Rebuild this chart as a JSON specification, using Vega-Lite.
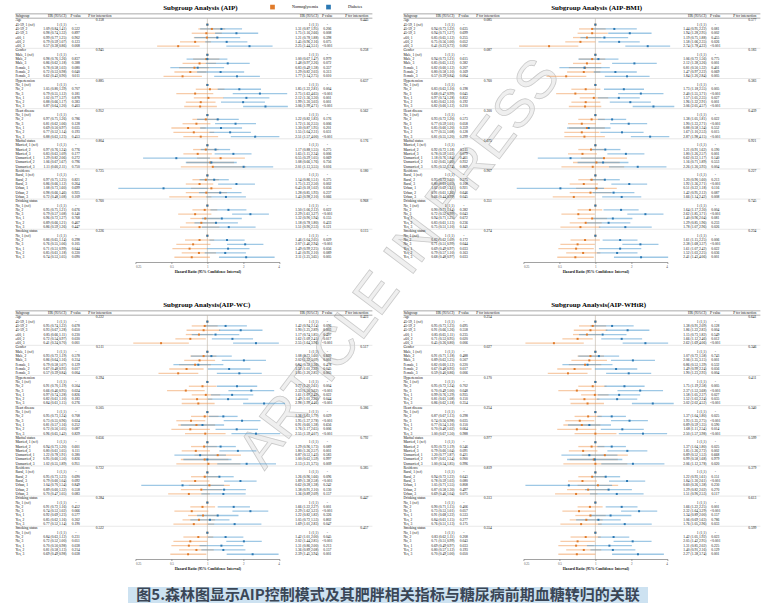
{
"$schema":"https://vega.github.io/schema/vega-lite/v6.json",
"padding":{"left":15,"top":4,"right":5,"bottom":5},
"background":"white",
"config":{"view":{"stroke":null}},
"datasets":{"t":[
{"p":1,"r":-1,"g":"c","s":"Subgroup","lt":"HR (95%CI)","lp":"P value","li":"P for interaction","rt":"HR (95%CI)","rp":"P value","ri":"P for interaction"},
{"p":1,"r":0,"g":"h","s":"Age","li":"0.158","ri":"0.445"},
{"p":1,"r":1,"g":"f","s":"45-59, 1 (ref)","lt":"1 (1,1)","lp":"-","rt":"1 (1,1)","rp":"-","n":1,"d":1},
{"p":1,"r":2,"g":"v","s":"45-59, 2","lt":"1.09 (0.84,1.41)","lp":"0.522","rt":"1.31 (0.87,1.95)","rp":"0.206","n":1.09,"nl":0.84,"nh":1.41,"d":1.31,"dl":0.87,"dh":1.95},
{"p":1,"r":3,"g":"v","s":"45-59, 3","lt":"0.98 (0.74,1.32)","lp":"0.897","rt":"1.75 (1.16,2.66)","rp":"0.008","n":0.98,"nl":0.74,"nh":1.32,"d":1.75,"dl":1.16,"dh":2.66},
{"p":1,"r":4,"g":"v","s":"≥60, 1","lt":"0.99 (0.77,1.25)","lp":"0.902","rt":"1.21 (0.78,1.88)","rp":"0.398","n":0.99,"nl":0.77,"nh":1.25,"d":1.21,"dl":0.78,"dh":1.88},
{"p":1,"r":5,"g":"v","s":"≥60, 2","lt":"0.79 (0.59,1.07)","lp":"0.123","rt":"1.45 (0.96,2.16)","rp":"0.075","n":0.79,"nl":0.59,"nh":1.07,"d":1.45,"dl":0.96,"dh":2.16},
{"p":1,"r":6,"g":"v","s":"≥60, 3","lt":"0.57 (0.38,0.86)","lp":"0.008","rt":"2.25 (1.44,3.51)","rp":"<0.001","n":0.57,"nl":0.38,"nh":0.86,"d":2.25,"dl":1.44,"dh":3.51},
{"p":1,"r":7,"g":"h","s":"Gender","li":"0.945","ri":"0.258"},
{"p":1,"r":8,"g":"f","s":"Male, 1 (ref)","lt":"1 (1,1)","lp":"-","rt":"1 (1,1)","rp":"-","n":1,"d":1},
{"p":1,"r":9,"g":"v","s":"Male, 2","lt":"0.98 (0.76,1.26)","lp":"0.837","rt":"1.00 (0.67,1.47)","rp":"0.979","n":0.98,"nl":0.76,"nh":1.26,"d":1.0,"dl":0.67,"dh":1.47},
{"p":1,"r":10,"g":"v","s":"Male, 3","lt":"0.86 (0.62,1.18)","lp":"0.388","rt":"1.48 (0.97,2.26)","rp":"0.072","n":0.86,"nl":0.62,"nh":1.18,"d":1.48,"dl":0.97,"dh":2.26},
{"p":1,"r":11,"g":"v","s":"Female, 1","lt":"0.78 (0.58,1.03)","lp":"0.080","rt":"0.83 (0.49,1.38)","rp":"0.357","n":0.78,"nl":0.58,"nh":1.03,"d":0.83,"dl":0.49,"dh":1.38},
{"p":1,"r":12,"g":"v","s":"Female, 2","lt":"0.72 (0.53,0.98)","lp":"0.040","rt":"1.29 (0.82,2.03)","rp":"0.313","n":0.72,"nl":0.53,"nh":0.98,"d":1.29,"dl":0.82,"dh":2.03},
{"p":1,"r":13,"g":"v","s":"Female, 3","lt":"0.62 (0.43,0.90)","lp":"0.011","rt":"1.77 (1.14,2.75)","rp":"0.010","n":0.62,"nl":0.43,"nh":0.9,"d":1.77,"dl":1.14,"dh":2.75},
{"p":1,"r":14,"g":"h","s":"Hypertension","li":"0.885","ri":"0.637"},
{"p":1,"r":15,"g":"f","s":"No, 1 (ref)","lt":"1 (1,1)","lp":"-","rt":"1 (1,1)","rp":"-","n":1,"d":1},
{"p":1,"r":16,"g":"v","s":"No, 2","lt":"1.05 (0.80,1.39)","lp":"0.707","rt":"1.85 (1.22,2.81)","rp":"0.004","n":1.05,"nl":0.8,"nh":1.39,"d":1.85,"dl":1.22,"dh":2.81},
{"p":1,"r":17,"g":"v","s":"No, 3","lt":"0.79 (0.55,1.12)","lp":"0.181","rt":"2.75 (1.63,4.65)","rp":"<0.001","n":0.79,"nl":0.55,"nh":1.12,"d":2.75,"dl":1.63,"dh":4.65},
{"p":1,"r":18,"g":"v","s":"Yes, 1","lt":"1.02 (0.77,1.37)","lp":"0.878","rt":"2.12 (1.36,3.30)","rp":"0.001","n":1.02,"nl":0.77,"nh":1.37,"d":2.12,"dl":1.36,"dh":3.3},
{"p":1,"r":19,"g":"v","s":"Yes, 2","lt":"0.88 (0.66,1.17)","lp":"0.383","rt":"1.99 (1.30,3.03)","rp":"0.001","n":0.88,"nl":0.66,"nh":1.17,"d":1.99,"dl":1.3,"dh":3.03},
{"p":1,"r":20,"g":"v","s":"Yes, 3","lt":"0.87 (0.64,1.20)","lp":"0.403","rt":"3.06 (1.99,4.71)","rp":"<0.001","n":0.87,"nl":0.64,"nh":1.2,"d":3.06,"dl":1.99,"dh":4.71},
{"p":1,"r":21,"g":"h","s":"Heart disease","li":"0.952","ri":"0.562"},
{"p":1,"r":22,"g":"f","s":"No, 1 (ref)","lt":"1 (1,1)","lp":"-","rt":"1 (1,1)","rp":"-","n":1,"d":1},
{"p":1,"r":23,"g":"v","s":"No, 2","lt":"0.97 (0.75,1.26)","lp":"0.786","rt":"1.22 (0.82,1.83)","rp":"0.176","n":0.97,"nl":0.75,"nh":1.26,"d":1.22,"dl":0.82,"dh":1.83},
{"p":1,"r":24,"g":"v","s":"No, 3","lt":"0.81 (0.62,1.06)","lp":"0.128","rt":"1.72 (1.16,2.55)","rp":"0.006","n":0.81,"nl":0.62,"nh":1.06,"d":1.72,"dl":1.16,"dh":2.55},
{"p":1,"r":25,"g":"v","s":"Yes, 1","lt":"0.69 (0.50,0.97)","lp":"0.035","rt":"1.30 (0.87,1.95)","rp":"0.201","n":0.69,"nl":0.5,"nh":0.97,"d":1.3,"dl":0.87,"dh":1.95},
{"p":1,"r":26,"g":"v","s":"Yes, 2","lt":"0.77 (0.52,1.14)","lp":"0.193","rt":"1.55 (1.04,2.31)","rp":"0.031","n":0.77,"nl":0.52,"nh":1.14,"d":1.55,"dl":1.04,"dh":2.31},
{"p":1,"r":27,"g":"v","s":"Yes, 3","lt":"0.88 (0.63,1.23)","lp":"0.453","rt":"2.51 (1.57,4.00)","rp":"<0.001","n":0.88,"nl":0.63,"nh":1.23,"d":2.51,"dl":1.57,"dh":4.0},
{"p":1,"r":28,"g":"h","s":"Marital status","li":"0.804","ri":"0.176"},
{"p":1,"r":29,"g":"f","s":"Married, 1 (ref)","lt":"1 (1,1)","lp":"-","rt":"1 (1,1)","rp":"-","n":1,"d":1},
{"p":1,"r":30,"g":"v","s":"Married, 2","lt":"0.97 (0.76,1.24)","lp":"0.776","rt":"1.17 (0.88,1.55)","rp":"0.275","n":0.97,"nl":0.76,"nh":1.24,"d":1.17,"dl":0.88,"dh":1.55},
{"p":1,"r":31,"g":"v","s":"Married, 3","lt":"0.83 (0.63,1.09)","lp":"0.177","rt":"1.65 (1.15,2.34)","rp":"0.006","n":0.83,"nl":0.63,"nh":1.09,"d":1.65,"dl":1.15,"dh":2.34},
{"p":1,"r":32,"g":"v","s":"Unmarried, 1","lt":"1.29 (0.82,2.06)","lp":"0.272","rt":"0.55 (0.29,1.05)","rp":"0.069","n":1.29,"nl":0.82,"nh":2.06,"d":0.55,"dl":0.29,"dh":1.05},
{"p":1,"r":33,"g":"v","s":"Unmarried, 2","lt":"1.06 (0.67,1.67)","lp":"0.796","rt":"1.08 (0.66,1.76)","rp":"0.756","n":1.06,"nl":0.67,"nh":1.67,"d":1.08,"dl":0.66,"dh":1.76},
{"p":1,"r":34,"g":"v","s":"Unmarried, 3","lt":"1.11 (0.60,2.11)","lp":"0.750","rt":"2.01 (1.13,3.55)","rp":"0.016","n":1.11,"nl":0.6,"nh":2.11,"d":2.01,"dl":1.13,"dh":3.55},
{"p":1,"r":35,"g":"h","s":"Residence","li":"0.725","ri":"0.180"},
{"p":1,"r":36,"g":"f","s":"Rural, 1 (ref)","lt":"1 (1,1)","lp":"-","rt":"1 (1,1)","rp":"-","n":1,"d":1},
{"p":1,"r":37,"g":"v","s":"Rural, 2","lt":"0.97 (0.75,1.25)","lp":"0.821","rt":"1.14 (0.86,1.51)","rp":"0.375","n":0.97,"nl":0.75,"nh":1.25,"d":1.14,"dl":0.86,"dh":1.51},
{"p":1,"r":38,"g":"v","s":"Rural, 3","lt":"0.86 (0.66,1.12)","lp":"0.264","rt":"1.75 (1.23,2.50)","rp":"0.002","n":0.86,"nl":0.66,"nh":1.12,"d":1.75,"dl":1.23,"dh":2.5},
{"p":1,"r":39,"g":"v","s":"Urban, 1","lt":"1.08 (0.73,1.60)","lp":"0.699","rt":"0.43 (0.18,1.02)","rp":"0.056","n":1.08,"nl":0.73,"nh":1.6,"d":0.43,"dl":0.18,"dh":1.02},
{"p":1,"r":40,"g":"v","s":"Urban, 2","lt":"0.98 (0.66,1.46)","lp":"0.925","rt":"1.28 (0.85,1.93)","rp":"0.237","n":0.98,"nl":0.66,"nh":1.46,"d":1.28,"dl":0.85,"dh":1.93},
{"p":1,"r":41,"g":"v","s":"Urban, 3","lt":"0.72 (0.48,1.08)","lp":"0.109","rt":"1.43 (0.98,2.10)","rp":"0.066","n":0.72,"nl":0.48,"nh":1.08,"d":1.43,"dl":0.98,"dh":2.1},
{"p":1,"r":42,"g":"h","s":"Drinking status","li":"0.760","ri":"0.968"},
{"p":1,"r":43,"g":"f","s":"No, 1 (ref)","lt":"1 (1,1)","lp":"-","rt":"1 (1,1)","rp":"-","n":1,"d":1},
{"p":1,"r":44,"g":"v","s":"No, 2","lt":"0.95 (0.75,1.21)","lp":"0.676","rt":"1.50 (1.06,2.12)","rp":"0.022","n":0.95,"nl":0.75,"nh":1.21,"d":1.5,"dl":1.06,"dh":2.12},
{"p":1,"r":45,"g":"v","s":"No, 3","lt":"0.79 (0.57,1.08)","lp":"0.140","rt":"2.29 (1.61,3.27)","rp":"<0.001","n":0.79,"nl":0.57,"nh":1.08,"d":2.29,"dl":1.61,"dh":3.27},
{"p":1,"r":46,"g":"v","s":"Yes, 1","lt":"0.96 (0.72,1.27)","lp":"0.768","rt":"1.32 (0.90,1.94)","rp":"0.155","n":0.96,"nl":0.72,"nh":1.27,"d":1.32,"dl":0.9,"dh":1.94},
{"p":1,"r":47,"g":"v","s":"Yes, 2","lt":"0.89 (0.66,1.21)","lp":"0.467","rt":"1.18 (0.78,1.80)","rp":"0.433","n":0.89,"nl":0.66,"nh":1.21,"d":1.18,"dl":0.78,"dh":1.8},
{"p":1,"r":48,"g":"v","s":"Yes, 3","lt":"0.86 (0.59,1.26)","lp":"0.447","rt":"1.51 (0.90,2.53)","rp":"0.121","n":0.86,"nl":0.59,"nh":1.26,"d":1.51,"dl":0.9,"dh":2.53},
{"p":1,"r":49,"g":"h","s":"Smoking status","li":"0.226","ri":"0.115"},
{"p":1,"r":50,"g":"f","s":"No, 1 (ref)","lt":"1 (1,1)","lp":"-","rt":"1 (1,1)","rp":"-","n":1,"d":1},
{"p":1,"r":51,"g":"v","s":"No, 2","lt":"0.86 (0.65,1.14)","lp":"0.298","rt":"1.46 (1.04,2.05)","rp":"0.029","n":0.86,"nl":0.65,"nh":1.14,"d":1.46,"dl":1.04,"dh":2.05},
{"p":1,"r":52,"g":"v","s":"No, 3","lt":"0.76 (0.55,1.06)","lp":"0.105","rt":"2.07 (1.46,2.94)","rp":"<0.001","n":0.76,"nl":0.55,"nh":1.06,"d":2.07,"dl":1.46,"dh":2.94},
{"p":1,"r":53,"g":"v","s":"Yes, 1","lt":"0.71 (0.51,0.99)","lp":"0.044","rt":"1.49 (0.99,2.25)","rp":"0.056","n":0.71,"nl":0.51,"nh":0.99,"d":1.49,"dl":0.99,"dh":2.25},
{"p":1,"r":54,"g":"v","s":"Yes, 2","lt":"0.85 (0.61,1.18)","lp":"0.330","rt":"1.41 (0.95,2.10)","rp":"0.089","n":0.85,"nl":0.61,"nh":1.18,"d":1.41,"dl":0.95,"dh":2.1},
{"p":1,"r":55,"g":"v","s":"Yes, 3","lt":"0.74 (0.53,1.05)","lp":"0.090","rt":"2.11 (1.25,3.65)","rp":"0.005","n":0.74,"nl":0.53,"nh":1.05,"d":2.11,"dl":1.25,"dh":3.65},

{"p":2,"r":-1,"g":"c","s":"Subgroup","lt":"HR (95%CI)","lp":"P value","li":"P for interaction","rt":"HR (95%CI)","rp":"P value","ri":"P for interaction"},
{"p":2,"r":0,"g":"h","s":"Age","li":"0.085","ri":"0.577"},
{"p":2,"r":1,"g":"f","s":"45-59, 1 (ref)","lt":"1 (1,1)","lp":"-","rt":"1 (1,1)","rp":"-","n":1,"d":1},
{"p":2,"r":2,"g":"v","s":"45-59, 2","lt":"0.94 (0.73,1.22)","lp":"0.635","rt":"1.44 (0.95,2.22)","rp":"0.081","n":0.94,"nl":0.73,"nh":1.22,"d":1.44,"dl":0.95,"dh":2.22},
{"p":2,"r":3,"g":"v","s":"45-59, 3","lt":"0.94 (0.71,1.27)","lp":"0.699","rt":"1.94 (1.28,2.95)","rp":"0.002","n":0.94,"nl":0.71,"nh":1.27,"d":1.94,"dl":1.28,"dh":2.95},
{"p":2,"r":4,"g":"v","s":"≥60, 1","lt":"0.85 (0.65,1.12)","lp":"0.255","rt":"1.19 (0.75,1.88)","rp":"0.455","n":0.85,"nl":0.65,"nh":1.12,"d":1.19,"dl":0.75,"dh":1.88},
{"p":2,"r":5,"g":"v","s":"≥60, 2","lt":"0.75 (0.56,1.00)","lp":"0.052","rt":"1.58 (1.06,2.35)","rp":"0.026","n":0.75,"nl":0.56,"nh":1.0,"d":1.58,"dl":1.06,"dh":2.35},
{"p":2,"r":6,"g":"v","s":"≥60, 3","lt":"0.41 (0.23,0.72)","lp":"0.002","rt":"2.74 (1.78,4.22)","rp":"<0.001","n":0.41,"nl":0.23,"nh":0.72,"d":2.74,"dl":1.78,"dh":4.22},
{"p":2,"r":7,"g":"h","s":"Gender","li":"0.087","ri":"0.183"},
{"p":2,"r":8,"g":"f","s":"Male, 1 (ref)","lt":"1 (1,1)","lp":"-","rt":"1 (1,1)","rp":"-","n":1,"d":1},
{"p":2,"r":9,"g":"v","s":"Male, 2","lt":"0.94 (0.73,1.21)","lp":"0.615","rt":"1.06 (0.72,1.56)","rp":"0.775","n":0.94,"nl":0.73,"nh":1.21,"d":1.06,"dl":0.72,"dh":1.56},
{"p":2,"r":10,"g":"v","s":"Male, 3","lt":"0.85 (0.65,1.12)","lp":"0.382","rt":"2.12 (1.38,3.26)","rp":"0.001","n":0.85,"nl":0.65,"nh":1.12,"d":2.12,"dl":1.38,"dh":3.26},
{"p":2,"r":11,"g":"v","s":"Female, 1","lt":"0.82 (0.60,1.12)","lp":"0.207","rt":"0.81 (0.50,1.32)","rp":"0.401","n":0.82,"nl":0.6,"nh":1.12,"d":0.81,"dl":0.5,"dh":1.32},
{"p":2,"r":12,"g":"v","s":"Female, 2","lt":"0.80 (0.58,1.10)","lp":"0.169","rt":"1.47 (0.97,2.22)","rp":"0.069","n":0.8,"nl":0.58,"nh":1.1,"d":1.47,"dl":0.97,"dh":2.22},
{"p":2,"r":13,"g":"v","s":"Female, 3","lt":"0.57 (0.39,0.84)","lp":"0.004","rt":"1.84 (1.20,2.84)","rp":"0.005","n":0.57,"nl":0.39,"nh":0.84,"d":1.84,"dl":1.2,"dh":2.84},
{"p":2,"r":14,"g":"h","s":"Hypertension","li":"0.760","ri":"0.383"},
{"p":2,"r":15,"g":"f","s":"No, 1 (ref)","lt":"1 (1,1)","lp":"-","rt":"1 (1,1)","rp":"-","n":1,"d":1},
{"p":2,"r":16,"g":"v","s":"No, 2","lt":"0.83 (0.63,1.10)","lp":"0.198","rt":"1.73 (1.18,2.55)","rp":"0.005","n":0.83,"nl":0.63,"nh":1.1,"d":1.73,"dl":1.18,"dh":2.55},
{"p":2,"r":17,"g":"v","s":"No, 3","lt":"0.68 (0.47,0.99)","lp":"0.045","rt":"2.40 (1.55,3.71)","rp":"<0.001","n":0.68,"nl":0.47,"nh":0.99,"d":2.4,"dl":1.55,"dh":3.71},
{"p":2,"r":18,"g":"v","s":"Yes, 1","lt":"0.97 (0.74,1.28)","lp":"0.832","rt":"1.57 (1.05,2.35)","rp":"0.027","n":0.97,"nl":0.74,"nh":1.28,"d":1.57,"dl":1.05,"dh":2.35},
{"p":2,"r":19,"g":"v","s":"Yes, 2","lt":"0.83 (0.63,1.10)","lp":"0.192","rt":"1.96 (1.32,2.91)","rp":"0.001","n":0.83,"nl":0.63,"nh":1.1,"d":1.96,"dl":1.32,"dh":2.91},
{"p":2,"r":20,"g":"v","s":"Yes, 3","lt":"0.82 (0.60,1.12)","lp":"0.210","rt":"3.06 (2.05,4.57)","rp":"<0.001","n":0.82,"nl":0.6,"nh":1.12,"d":3.06,"dl":2.05,"dh":4.57},
{"p":2,"r":21,"g":"h","s":"Heart disease","li":"0.300","ri":"0.439"},
{"p":2,"r":22,"g":"f","s":"No, 1 (ref)","lt":"1 (1,1)","lp":"-","rt":"1 (1,1)","rp":"-","n":1,"d":1},
{"p":2,"r":23,"g":"v","s":"No, 2","lt":"0.93 (0.72,1.20)","lp":"0.573","rt":"1.38 (1.05,1.81)","rp":"0.022","n":0.93,"nl":0.72,"nh":1.2,"d":1.38,"dl":1.05,"dh":1.81},
{"p":2,"r":24,"g":"v","s":"No, 3","lt":"0.77 (0.59,1.01)","lp":"0.058","rt":"1.90 (1.33,2.71)","rp":"<0.001","n":0.77,"nl":0.59,"nh":1.01,"d":1.9,"dl":1.33,"dh":2.71},
{"p":2,"r":25,"g":"v","s":"Yes, 1","lt":"0.85 (0.60,1.20)","lp":"0.359","rt":"0.88 (0.58,1.34)","rp":"0.552","n":0.85,"nl":0.6,"nh":1.2,"d":0.88,"dl":0.58,"dh":1.34},
{"p":2,"r":26,"g":"v","s":"Yes, 2","lt":"0.77 (0.55,1.08)","lp":"0.128","rt":"1.67 (1.10,2.53)","rp":"0.015","n":0.77,"nl":0.55,"nh":1.08,"d":1.67,"dl":1.1,"dh":2.53},
{"p":2,"r":27,"g":"v","s":"Yes, 3","lt":"0.81 (0.55,1.20)","lp":"0.299","rt":"2.87 (1.98,4.15)","rp":"<0.001","n":0.81,"nl":0.55,"nh":1.2,"d":2.87,"dl":1.98,"dh":4.15},
{"p":2,"r":28,"g":"h","s":"Marital status","li":"0.075","ri":"0.921"},
{"p":2,"r":29,"g":"f","s":"Married, 1 (ref)","lt":"1 (1,1)","lp":"-","rt":"1 (1,1)","rp":"-","n":1,"d":1},
{"p":2,"r":30,"g":"v","s":"Married, 2","lt":"0.92 (0.72,1.18)","lp":"0.511","rt":"1.21 (0.91,1.62)","rp":"0.190","n":0.92,"nl":0.72,"nh":1.18,"d":1.21,"dl":0.91,"dh":1.62},
{"p":2,"r":31,"g":"v","s":"Married, 3","lt":"0.78 (0.59,1.03)","lp":"0.079","rt":"1.80 (1.26,2.57)","rp":"0.001","n":0.78,"nl":0.59,"nh":1.03,"d":1.8,"dl":1.26,"dh":2.57},
{"p":2,"r":32,"g":"v","s":"Unmarried, 1","lt":"1.18 (0.76,1.84)","lp":"0.461","rt":"0.62 (0.33,1.17)","rp":"0.140","n":1.18,"nl":0.76,"nh":1.84,"d":0.62,"dl":0.33,"dh":1.17},
{"p":2,"r":33,"g":"v","s":"Unmarried, 2","lt":"1.02 (0.65,1.60)","lp":"0.932","rt":"1.16 (0.71,1.89)","rp":"0.553","n":1.02,"nl":0.65,"nh":1.6,"d":1.16,"dl":0.71,"dh":1.89},
{"p":2,"r":34,"g":"v","s":"Unmarried, 3","lt":"0.95 (0.52,1.74)","lp":"0.869","rt":"2.26 (1.30,3.93)","rp":"0.004","n":0.95,"nl":0.52,"nh":1.74,"d":2.26,"dl":1.3,"dh":3.93},
{"p":2,"r":35,"g":"h","s":"Residence","li":"0.907","ri":"0.227"},
{"p":2,"r":36,"g":"f","s":"Rural, 1 (ref)","lt":"1 (1,1)","lp":"-","rt":"1 (1,1)","rp":"-","n":1,"d":1},
{"p":2,"r":37,"g":"v","s":"Rural, 2","lt":"0.93 (0.72,1.20)","lp":"0.575","rt":"1.20 (0.90,1.60)","rp":"0.213","n":0.93,"nl":0.72,"nh":1.2,"d":1.2,"dl":0.9,"dh":1.6},
{"p":2,"r":38,"g":"v","s":"Rural, 3","lt":"0.80 (0.61,1.05)","lp":"0.108","rt":"1.92 (1.36,2.71)","rp":"<0.001","n":0.8,"nl":0.61,"nh":1.05,"d":1.92,"dl":1.36,"dh":2.71},
{"p":2,"r":39,"g":"v","s":"Urban, 1","lt":"1.02 (0.69,1.51)","lp":"0.921","rt":"0.51 (0.22,1.18)","rp":"0.116","n":1.02,"nl":0.69,"nh":1.51,"d":0.51,"dl":0.22,"dh":1.18},
{"p":2,"r":40,"g":"v","s":"Urban, 2","lt":"0.91 (0.61,1.36)","lp":"0.646","rt":"1.42 (0.95,2.12)","rp":"0.087","n":0.91,"nl":0.61,"nh":1.36,"d":1.42,"dl":0.95,"dh":2.12},
{"p":2,"r":41,"g":"v","s":"Urban, 3","lt":"0.66 (0.44,0.99)","lp":"0.045","rt":"1.66 (1.14,2.42)","rp":"0.008","n":0.66,"nl":0.44,"nh":0.99,"d":1.66,"dl":1.14,"dh":2.42},
{"p":2,"r":42,"g":"h","s":"Drinking status","li":"0.351","ri":"0.745"},
{"p":2,"r":43,"g":"f","s":"No, 1 (ref)","lt":"1 (1,1)","lp":"-","rt":"1 (1,1)","rp":"-","n":1,"d":1},
{"p":2,"r":44,"g":"v","s":"No, 2","lt":"0.90 (0.71,1.14)","lp":"0.382","rt":"1.64 (1.17,2.30)","rp":"0.004","n":0.9,"nl":0.71,"nh":1.14,"d":1.64,"dl":1.17,"dh":2.3},
{"p":2,"r":45,"g":"v","s":"No, 3","lt":"0.72 (0.52,0.99)","lp":"0.043","rt":"2.62 (1.85,3.71)","rp":"<0.001","n":0.72,"nl":0.52,"nh":0.99,"d":2.62,"dl":1.85,"dh":3.71},
{"p":2,"r":46,"g":"v","s":"Yes, 1","lt":"0.94 (0.71,1.25)","lp":"0.672","rt":"1.40 (0.96,2.04)","rp":"0.081","n":0.94,"nl":0.71,"nh":1.25,"d":1.4,"dl":0.96,"dh":2.04},
{"p":2,"r":47,"g":"v","s":"Yes, 2","lt":"0.83 (0.61,1.13)","lp":"0.236","rt":"1.29 (0.85,1.96)","rp":"0.233","n":0.83,"nl":0.61,"nh":1.13,"d":1.29,"dl":0.85,"dh":1.96},
{"p":2,"r":48,"g":"v","s":"Yes, 3","lt":"0.75 (0.51,1.10)","lp":"0.141","rt":"1.78 (1.07,2.96)","rp":"0.026","n":0.75,"nl":0.51,"nh":1.1,"d":1.78,"dl":1.07,"dh":2.96},
{"p":2,"r":49,"g":"h","s":"Smoking status","li":"0.274","ri":"0.234"},
{"p":2,"r":50,"g":"f","s":"No, 1 (ref)","lt":"1 (1,1)","lp":"-","rt":"1 (1,1)","rp":"-","n":1,"d":1},
{"p":2,"r":51,"g":"v","s":"No, 2","lt":"0.82 (0.62,1.09)","lp":"0.172","rt":"1.61 (1.15,2.25)","rp":"0.006","n":0.82,"nl":0.62,"nh":1.09,"d":1.61,"dl":1.15,"dh":2.25},
{"p":2,"r":52,"g":"v","s":"No, 3","lt":"0.71 (0.51,0.99)","lp":"0.044","rt":"2.38 (1.68,3.37)","rp":"<0.001","n":0.71,"nl":0.51,"nh":0.99,"d":2.38,"dl":1.68,"dh":3.37},
{"p":2,"r":53,"g":"v","s":"Yes, 1","lt":"0.69 (0.49,0.97)","lp":"0.033","rt":"1.61 (1.07,2.42)","rp":"0.022","n":0.69,"nl":0.49,"nh":0.97,"d":1.61,"dl":1.07,"dh":2.42},
{"p":2,"r":54,"g":"v","s":"Yes, 2","lt":"0.79 (0.57,1.10)","lp":"0.163","rt":"1.52 (1.03,2.25)","rp":"0.036","n":0.79,"nl":0.57,"nh":1.1,"d":1.52,"dl":1.03,"dh":2.25},
{"p":2,"r":55,"g":"v","s":"Yes, 3","lt":"0.68 (0.48,0.97)","lp":"0.033","rt":"2.41 (1.43,4.06)","rp":"0.001","n":0.68,"nl":0.48,"nh":0.97,"d":2.41,"dl":1.43,"dh":4.06},

{"p":3,"r":-1,"g":"c","s":"Subgroup","lt":"HR (95%CI)","lp":"P value","li":"P for interaction","rt":"HR (95%CI)","rp":"P value","ri":"P for interaction"},
{"p":3,"r":0,"g":"h","s":"Age","li":"0.222","ri":"0.423"},
{"p":3,"r":1,"g":"f","s":"45-59, 1 (ref)","lt":"1 (1,1)","lp":"-","rt":"1 (1,1)","rp":"-","n":1,"d":1},
{"p":3,"r":2,"g":"v","s":"45-59, 2","lt":"0.95 (0.74,1.22)","lp":"0.678","rt":"1.42 (0.94,2.14)","rp":"0.096","n":0.95,"nl":0.74,"nh":1.22,"d":1.42,"dl":0.94,"dh":2.14},
{"p":3,"r":3,"g":"v","s":"45-59, 3","lt":"0.93 (0.67,1.28)","lp":"0.650","rt":"1.90 (1.25,2.89)","rp":"0.003","n":0.93,"nl":0.67,"nh":1.28,"d":1.9,"dl":1.25,"dh":2.89},
{"p":3,"r":4,"g":"v","s":"≥60, 1","lt":"0.85 (0.66,1.11)","lp":"0.230","rt":"1.17 (0.74,1.85)","rp":"0.497","n":0.85,"nl":0.66,"nh":1.11,"d":1.17,"dl":0.74,"dh":1.85},
{"p":3,"r":5,"g":"v","s":"≥60, 2","lt":"0.72 (0.54,0.97)","lp":"0.030","rt":"1.62 (1.09,2.41)","rp":"0.017","n":0.72,"nl":0.54,"nh":0.97,"d":1.62,"dl":1.09,"dh":2.41},
{"p":3,"r":6,"g":"v","s":"≥60, 3","lt":"0.41 (0.24,0.70)","lp":"0.001","rt":"2.55 (1.64,3.96)","rp":"<0.001","n":0.41,"nl":0.24,"nh":0.7,"d":2.55,"dl":1.64,"dh":3.96},
{"p":3,"r":7,"g":"h","s":"Gender","li":"0.511","ri":"0.517"},
{"p":3,"r":8,"g":"f","s":"Male, 1 (ref)","lt":"1 (1,1)","lp":"-","rt":"1 (1,1)","rp":"-","n":1,"d":1},
{"p":3,"r":9,"g":"v","s":"Male, 2","lt":"0.93 (0.72,1.19)","lp":"0.578","rt":"1.08 (0.73,1.60)","rp":"0.699","n":0.93,"nl":0.72,"nh":1.19,"d":1.08,"dl":0.73,"dh":1.6},
{"p":3,"r":10,"g":"v","s":"Male, 3","lt":"0.86 (0.64,1.16)","lp":"0.314","rt":"2.02 (1.32,3.09)","rp":"0.001","n":0.86,"nl":0.64,"nh":1.16,"d":2.02,"dl":1.32,"dh":3.09},
{"p":3,"r":11,"g":"v","s":"Female, 1","lt":"0.79 (0.58,1.07)","lp":"0.129","rt":"0.84 (0.52,1.36)","rp":"0.478","n":0.79,"nl":0.58,"nh":1.07,"d":0.84,"dl":0.52,"dh":1.36},
{"p":3,"r":12,"g":"v","s":"Female, 2","lt":"0.67 (0.48,0.93)","lp":"0.017","rt":"1.52 (1.01,2.29)","rp":"0.045","n":0.67,"nl":0.48,"nh":0.93,"d":1.52,"dl":1.01,"dh":2.29},
{"p":3,"r":13,"g":"v","s":"Female, 3","lt":"0.57 (0.39,0.84)","lp":"0.004","rt":"1.85 (1.20,2.85)","rp":"0.005","n":0.57,"nl":0.39,"nh":0.84,"d":1.85,"dl":1.2,"dh":2.85},
{"p":3,"r":14,"g":"h","s":"Hypertension","li":"0.394","ri":"0.402"},
{"p":3,"r":15,"g":"f","s":"No, 1 (ref)","lt":"1 (1,1)","lp":"-","rt":"1 (1,1)","rp":"-","n":1,"d":1},
{"p":3,"r":16,"g":"v","s":"No, 2","lt":"0.91 (0.70,1.19)","lp":"0.504","rt":"1.77 (1.20,2.61)","rp":"0.004","n":0.91,"nl":0.7,"nh":1.19,"d":1.77,"dl":1.2,"dh":2.61},
{"p":3,"r":17,"g":"v","s":"No, 3","lt":"0.66 (0.46,0.95)","lp":"0.024","rt":"2.33 (1.50,3.62)","rp":"<0.001","n":0.66,"nl":0.46,"nh":0.95,"d":2.33,"dl":1.5,"dh":3.62},
{"p":3,"r":18,"g":"v","s":"Yes, 1","lt":"0.97 (0.74,1.28)","lp":"0.826","rt":"1.61 (1.07,2.42)","rp":"0.022","n":0.97,"nl":0.74,"nh":1.28,"d":1.61,"dl":1.07,"dh":2.42},
{"p":3,"r":19,"g":"v","s":"Yes, 2","lt":"0.82 (0.61,1.10)","lp":"0.183","rt":"1.49 (1.01,2.20)","rp":"0.044","n":0.82,"nl":0.61,"nh":1.1,"d":1.49,"dl":1.01,"dh":2.2},
{"p":3,"r":20,"g":"v","s":"Yes, 3","lt":"0.84 (0.61,1.15)","lp":"0.276","rt":"2.98 (1.99,4.46)","rp":"<0.001","n":0.84,"nl":0.61,"nh":1.15,"d":2.98,"dl":1.99,"dh":4.46},
{"p":3,"r":21,"g":"h","s":"Heart disease","li":"0.505","ri":"0.386"},
{"p":3,"r":22,"g":"f","s":"No, 1 (ref)","lt":"1 (1,1)","lp":"-","rt":"1 (1,1)","rp":"-","n":1,"d":1},
{"p":3,"r":23,"g":"v","s":"No, 2","lt":"0.95 (0.73,1.24)","lp":"0.708","rt":"1.36 (1.03,1.79)","rp":"0.029","n":0.95,"nl":0.73,"nh":1.24,"d":1.36,"dl":1.03,"dh":1.79},
{"p":3,"r":24,"g":"v","s":"No, 3","lt":"0.73 (0.55,0.96)","lp":"0.024","rt":"1.95 (1.37,2.78)","rp":"<0.001","n":0.73,"nl":0.55,"nh":0.96,"d":1.95,"dl":1.37,"dh":2.78},
{"p":3,"r":25,"g":"v","s":"Yes, 1","lt":"0.81 (0.57,1.16)","lp":"0.252","rt":"0.91 (0.60,1.38)","rp":"0.656","n":0.81,"nl":0.57,"nh":1.16,"d":0.91,"dl":0.6,"dh":1.38},
{"p":3,"r":26,"g":"v","s":"Yes, 2","lt":"0.72 (0.50,1.05)","lp":"0.087","rt":"1.76 (1.17,2.65)","rp":"0.006","n":0.72,"nl":0.5,"nh":1.05,"d":1.76,"dl":1.17,"dh":2.65},
{"p":3,"r":27,"g":"v","s":"Yes, 3","lt":"0.96 (0.65,1.42)","lp":"0.829","rt":"2.55 (1.59,4.07)","rp":"<0.001","n":0.96,"nl":0.65,"nh":1.42,"d":2.55,"dl":1.59,"dh":4.07},
{"p":3,"r":28,"g":"h","s":"Marital status","li":"0.656","ri":"0.792"},
{"p":3,"r":29,"g":"f","s":"Married, 1 (ref)","lt":"1 (1,1)","lp":"-","rt":"1 (1,1)","rp":"-","n":1,"d":1},
{"p":3,"r":30,"g":"v","s":"Married, 2","lt":"0.94 (0.73,1.20)","lp":"0.601","rt":"1.29 (0.96,1.73)","rp":"0.089","n":0.94,"nl":0.73,"nh":1.2,"d":1.29,"dl":0.96,"dh":1.73},
{"p":3,"r":31,"g":"v","s":"Married, 3","lt":"0.80 (0.61,1.05)","lp":"0.111","rt":"1.80 (1.26,2.57)","rp":"0.001","n":0.8,"nl":0.61,"nh":1.05,"d":1.8,"dl":1.26,"dh":2.57},
{"p":3,"r":32,"g":"v","s":"Unmarried, 1","lt":"1.22 (0.78,1.91)","lp":"0.380","rt":"0.87 (0.53,1.43)","rp":"0.583","n":1.22,"nl":0.78,"nh":1.91,"d":0.87,"dl":0.53,"dh":1.43},
{"p":3,"r":33,"g":"v","s":"Unmarried, 2","lt":"0.95 (0.60,1.50)","lp":"0.826","rt":"1.00 (0.63,1.59)","rp":"0.997","n":0.95,"nl":0.6,"nh":1.5,"d":1.0,"dl":0.63,"dh":1.59},
{"p":3,"r":34,"g":"v","s":"Unmarried, 3","lt":"1.02 (0.55,1.89)","lp":"0.951","rt":"2.13 (1.21,3.75)","rp":"0.009","n":1.02,"nl":0.55,"nh":1.89,"d":2.13,"dl":1.21,"dh":3.75},
{"p":3,"r":35,"g":"h","s":"Residence","li":"0.722","ri":"0.385"},
{"p":3,"r":36,"g":"f","s":"Rural, 1 (ref)","lt":"1 (1,1)","lp":"-","rt":"1 (1,1)","rp":"-","n":1,"d":1},
{"p":3,"r":37,"g":"v","s":"Rural, 2","lt":"0.95 (0.73,1.23)","lp":"0.690","rt":"1.26 (0.96,1.66)","rp":"0.096","n":0.95,"nl":0.73,"nh":1.23,"d":1.26,"dl":0.96,"dh":1.66},
{"p":3,"r":38,"g":"v","s":"Rural, 3","lt":"0.79 (0.60,1.04)","lp":"0.092","rt":"1.89 (1.38,2.58)","rp":"<0.001","n":0.79,"nl":0.6,"nh":1.04,"d":1.89,"dl":1.38,"dh":2.58},
{"p":3,"r":39,"g":"v","s":"Urban, 1","lt":"1.04 (0.70,1.54)","lp":"0.849","rt":"0.62 (0.28,1.38)","rp":"0.242","n":1.04,"nl":0.7,"nh":1.54,"d":0.62,"dl":0.28,"dh":1.38},
{"p":3,"r":40,"g":"v","s":"Urban, 2","lt":"0.89 (0.60,1.32)","lp":"0.558","rt":"1.38 (0.91,2.10)","rp":"0.130","n":0.89,"nl":0.6,"nh":1.32,"d":1.38,"dl":0.91,"dh":2.1},
{"p":3,"r":41,"g":"v","s":"Urban, 3","lt":"0.70 (0.47,1.05)","lp":"0.083","rt":"1.36 (0.89,2.09)","rp":"0.157","n":0.7,"nl":0.47,"nh":1.05,"d":1.36,"dl":0.89,"dh":2.09},
{"p":3,"r":42,"g":"h","s":"Drinking status","li":"0.384","ri":"0.447"},
{"p":3,"r":43,"g":"f","s":"No, 1 (ref)","lt":"1 (1,1)","lp":"-","rt":"1 (1,1)","rp":"-","n":1,"d":1},
{"p":3,"r":44,"g":"v","s":"No, 2","lt":"0.91 (0.72,1.16)","lp":"0.452","rt":"1.66 (1.22,2.27)","rp":"0.001","n":0.91,"nl":0.72,"nh":1.16,"d":1.66,"dl":1.22,"dh":2.27},
{"p":3,"r":45,"g":"v","s":"No, 3","lt":"0.74 (0.53,1.02)","lp":"0.066","rt":"2.29 (1.62,3.23)","rp":"<0.001","n":0.74,"nl":0.53,"nh":1.02,"d":2.29,"dl":1.62,"dh":3.23},
{"p":3,"r":46,"g":"v","s":"Yes, 1","lt":"0.92 (0.69,1.23)","lp":"0.577","rt":"1.22 (0.82,1.82)","rp":"0.326","n":0.92,"nl":0.69,"nh":1.23,"d":1.22,"dl":0.82,"dh":1.82},
{"p":3,"r":47,"g":"v","s":"Yes, 2","lt":"0.85 (0.62,1.16)","lp":"0.302","rt":"1.05 (0.72,1.53)","rp":"0.802","n":0.85,"nl":0.62,"nh":1.16,"d":1.05,"dl":0.72,"dh":1.53},
{"p":3,"r":48,"g":"v","s":"Yes, 3","lt":"0.77 (0.52,1.14)","lp":"0.190","rt":"1.69 (1.01,2.83)","rp":"0.047","n":0.77,"nl":0.52,"nh":1.14,"d":1.69,"dl":1.01,"dh":2.83},
{"p":3,"r":49,"g":"h","s":"Smoking status","li":"0.522","ri":"0.457"},
{"p":3,"r":50,"g":"f","s":"No, 1 (ref)","lt":"1 (1,1)","lp":"-","rt":"1 (1,1)","rp":"-","n":1,"d":1},
{"p":3,"r":51,"g":"v","s":"No, 2","lt":"0.84 (0.63,1.12)","lp":"0.231","rt":"1.42 (1.01,2.00)","rp":"0.045","n":0.84,"nl":0.63,"nh":1.12,"d":1.42,"dl":1.01,"dh":2.0},
{"p":3,"r":52,"g":"v","s":"No, 3","lt":"0.72 (0.52,1.00)","lp":"0.051","rt":"2.02 (1.44,2.85)","rp":"<0.001","n":0.72,"nl":0.52,"nh":1.0,"d":2.02,"dl":1.44,"dh":2.85},
{"p":3,"r":53,"g":"v","s":"Yes, 1","lt":"0.70 (0.50,0.98)","lp":"0.038","rt":"1.31 (0.86,2.00)","rp":"0.213","n":0.7,"nl":0.5,"nh":0.98,"d":1.31,"dl":0.86,"dh":2.0},
{"p":3,"r":54,"g":"v","s":"Yes, 2","lt":"0.81 (0.58,1.13)","lp":"0.214","rt":"1.36 (0.89,2.08)","rp":"0.157","n":0.81,"nl":0.58,"nh":1.13,"d":1.36,"dl":0.89,"dh":2.08},
{"p":3,"r":55,"g":"v","s":"Yes, 3","lt":"0.69 (0.49,0.98)","lp":"0.038","rt":"2.39 (1.45,3.94)","rp":"0.001","n":0.69,"nl":0.49,"nh":0.98,"d":2.39,"dl":1.45,"dh":3.94},

{"p":4,"r":-1,"g":"c","s":"Subgroup","lt":"HR (95%CI)","lp":"P value","li":"P for interaction","rt":"HR (95%CI)","rp":"P value","ri":"P for interaction"},
{"p":4,"r":0,"g":"h","s":"Age","li":"0.254","ri":"0.641"},
{"p":4,"r":1,"g":"f","s":"45-59, 1 (ref)","lt":"1 (1,1)","lp":"-","rt":"1 (1,1)","rp":"-","n":1,"d":1},
{"p":4,"r":2,"g":"v","s":"45-59, 2","lt":"0.95 (0.73,1.23)","lp":"0.695","rt":"1.38 (0.91,2.09)","rp":"0.128","n":0.95,"nl":0.73,"nh":1.23,"d":1.38,"dl":0.91,"dh":2.09},
{"p":4,"r":3,"g":"v","s":"45-59, 3","lt":"0.91 (0.66,1.26)","lp":"0.558","rt":"1.86 (1.22,2.83)","rp":"0.004","n":0.91,"nl":0.66,"nh":1.26,"d":1.86,"dl":1.22,"dh":2.83},
{"p":4,"r":4,"g":"v","s":"≥60, 1","lt":"0.85 (0.65,1.11)","lp":"0.235","rt":"1.15 (0.73,1.82)","rp":"0.549","n":0.85,"nl":0.65,"nh":1.11,"d":1.15,"dl":0.73,"dh":1.82},
{"p":4,"r":5,"g":"v","s":"≥60, 2","lt":"0.71 (0.53,0.95)","lp":"0.020","rt":"1.66 (1.12,2.46)","rp":"0.012","n":0.71,"nl":0.53,"nh":0.95,"d":1.66,"dl":1.12,"dh":2.46},
{"p":4,"r":6,"g":"v","s":"≥60, 3","lt":"0.45 (0.26,0.80)","lp":"0.006","rt":"2.62 (1.69,4.06)","rp":"<0.001","n":0.45,"nl":0.26,"nh":0.8,"d":2.62,"dl":1.69,"dh":4.06},
{"p":4,"r":7,"g":"h","s":"Gender","li":"0.027","ri":"0.346"},
{"p":4,"r":8,"g":"f","s":"Male, 1 (ref)","lt":"1 (1,1)","lp":"-","rt":"1 (1,1)","rp":"-","n":1,"d":1},
{"p":4,"r":9,"g":"v","s":"Male, 2","lt":"0.91 (0.71,1.18)","lp":"0.488","rt":"1.07 (0.72,1.58)","rp":"0.743","n":0.91,"nl":0.71,"nh":1.18,"d":1.07,"dl":0.72,"dh":1.58},
{"p":4,"r":10,"g":"v","s":"Male, 3","lt":"0.89 (0.63,1.25)","lp":"0.507","rt":"2.06 (1.35,3.15)","rp":"0.001","n":0.89,"nl":0.63,"nh":1.25,"d":2.06,"dl":1.35,"dh":3.15},
{"p":4,"r":11,"g":"v","s":"Female, 1","lt":"0.82 (0.60,1.12)","lp":"0.220","rt":"0.86 (0.53,1.39)","rp":"0.532","n":0.82,"nl":0.6,"nh":1.12,"d":0.86,"dl":0.53,"dh":1.39},
{"p":4,"r":12,"g":"v","s":"Female, 2","lt":"0.67 (0.48,0.93)","lp":"0.017","rt":"1.49 (0.99,2.24)","rp":"0.056","n":0.67,"nl":0.48,"nh":0.93,"d":1.49,"dl":0.99,"dh":2.24},
{"p":4,"r":13,"g":"v","s":"Female, 3","lt":"0.59 (0.40,0.86)","lp":"0.006","rt":"1.90 (1.23,2.93)","rp":"0.004","n":0.59,"nl":0.4,"nh":0.86,"d":1.9,"dl":1.23,"dh":2.93},
{"p":4,"r":14,"g":"h","s":"Hypertension","li":"0.170","ri":"0.411"},
{"p":4,"r":15,"g":"f","s":"No, 1 (ref)","lt":"1 (1,1)","lp":"-","rt":"1 (1,1)","rp":"-","n":1,"d":1},
{"p":4,"r":16,"g":"v","s":"No, 2","lt":"0.95 (0.72,1.24)","lp":"0.702","rt":"1.75 (1.19,2.58)","rp":"0.005","n":0.95,"nl":0.72,"nh":1.24,"d":1.75,"dl":1.19,"dh":2.58},
{"p":4,"r":17,"g":"v","s":"No, 3","lt":"0.70 (0.49,1.00)","lp":"0.048","rt":"2.37 (1.53,3.68)","rp":"<0.001","n":0.7,"nl":0.49,"nh":1.0,"d":2.37,"dl":1.53,"dh":3.68},
{"p":4,"r":18,"g":"v","s":"Yes, 1","lt":"0.99 (0.76,1.29)","lp":"0.935","rt":"1.58 (1.05,2.37)","rp":"0.027","n":0.99,"nl":0.76,"nh":1.29,"d":1.58,"dl":1.05,"dh":2.37},
{"p":4,"r":19,"g":"v","s":"Yes, 2","lt":"0.81 (0.61,1.08)","lp":"0.150","rt":"1.52 (1.03,2.24)","rp":"0.035","n":0.81,"nl":0.61,"nh":1.08,"d":1.52,"dl":1.03,"dh":2.24},
{"p":4,"r":20,"g":"v","s":"Yes, 3","lt":"0.86 (0.62,1.18)","lp":"0.354","rt":"3.02 (2.02,4.52)","rp":"<0.001","n":0.86,"nl":0.62,"nh":1.18,"d":3.02,"dl":2.02,"dh":4.52},
{"p":4,"r":21,"g":"h","s":"Heart disease","li":"0.254","ri":"0.340"},
{"p":4,"r":22,"g":"f","s":"No, 1 (ref)","lt":"1 (1,1)","lp":"-","rt":"1 (1,1)","rp":"-","n":1,"d":1},
{"p":4,"r":23,"g":"v","s":"No, 2","lt":"0.87 (0.67,1.13)","lp":"0.298","rt":"1.37 (1.04,1.80)","rp":"0.025","n":0.87,"nl":0.67,"nh":1.13,"d":1.37,"dl":1.04,"dh":1.8},
{"p":4,"r":24,"g":"v","s":"No, 3","lt":"0.74 (0.56,0.98)","lp":"0.035","rt":"1.93 (1.35,2.75)","rp":"<0.001","n":0.74,"nl":0.56,"nh":0.98,"d":1.93,"dl":1.35,"dh":2.75},
{"p":4,"r":25,"g":"v","s":"Yes, 1","lt":"0.77 (0.54,1.10)","lp":"0.150","rt":"0.89 (0.59,1.35)","rp":"0.590","n":0.77,"nl":0.54,"nh":1.1,"d":0.89,"dl":0.59,"dh":1.35},
{"p":4,"r":26,"g":"v","s":"Yes, 2","lt":"0.70 (0.48,1.02)","lp":"0.064","rt":"1.68 (1.11,2.54)","rp":"0.014","n":0.7,"nl":0.48,"nh":1.02,"d":1.68,"dl":1.11,"dh":2.54},
{"p":4,"r":27,"g":"v","s":"Yes, 3","lt":"1.00 (0.67,1.50)","lp":"0.988","rt":"2.50 (1.57,3.98)","rp":"<0.001","n":1.0,"nl":0.67,"nh":1.5,"d":2.5,"dl":1.57,"dh":3.98},
{"p":4,"r":28,"g":"h","s":"Marital status","li":"0.977","ri":"0.599"},
{"p":4,"r":29,"g":"f","s":"Married, 1 (ref)","lt":"1 (1,1)","lp":"-","rt":"1 (1,1)","rp":"-","n":1,"d":1},
{"p":4,"r":30,"g":"v","s":"Married, 2","lt":"0.93 (0.72,1.19)","lp":"0.546","rt":"1.37 (1.04,1.80)","rp":"0.025","n":0.93,"nl":0.72,"nh":1.19,"d":1.37,"dl":1.04,"dh":1.8},
{"p":4,"r":31,"g":"v","s":"Married, 3","lt":"0.79 (0.60,1.04)","lp":"0.091","rt":"1.85 (1.26,2.72)","rp":"0.002","n":0.79,"nl":0.6,"nh":1.04,"d":1.85,"dl":1.26,"dh":2.72},
{"p":4,"r":32,"g":"v","s":"Unmarried, 1","lt":"1.20 (0.77,1.87)","lp":"0.421","rt":"0.89 (0.52,1.53)","rp":"0.668","n":1.2,"nl":0.77,"nh":1.87,"d":0.89,"dl":0.52,"dh":1.53},
{"p":4,"r":33,"g":"v","s":"Unmarried, 2","lt":"0.97 (0.61,1.54)","lp":"0.900","rt":"0.99 (0.58,1.68)","rp":"0.979","n":0.97,"nl":0.61,"nh":1.54,"d":0.99,"dl":0.58,"dh":1.68},
{"p":4,"r":34,"g":"v","s":"Unmarried, 3","lt":"1.00 (0.54,1.85)","lp":"0.996","rt":"2.06 (1.12,3.78)","rp":"0.020","n":1.0,"nl":0.54,"nh":1.85,"d":2.06,"dl":1.12,"dh":3.78},
{"p":4,"r":35,"g":"h","s":"Residence","li":"0.819","ri":"0.379"},
{"p":4,"r":36,"g":"f","s":"Rural, 1 (ref)","lt":"1 (1,1)","lp":"-","rt":"1 (1,1)","rp":"-","n":1,"d":1},
{"p":4,"r":37,"g":"v","s":"Rural, 2","lt":"0.94 (0.72,1.22)","lp":"0.643","rt":"1.22 (0.93,1.61)","rp":"0.151","n":0.94,"nl":0.72,"nh":1.22,"d":1.22,"dl":0.93,"dh":1.61},
{"p":4,"r":38,"g":"v","s":"Rural, 3","lt":"0.78 (0.59,1.03)","lp":"0.080","rt":"1.84 (1.30,2.61)","rp":"<0.001","n":0.78,"nl":0.59,"nh":1.03,"d":1.84,"dl":1.3,"dh":2.61},
{"p":4,"r":39,"g":"v","s":"Urban, 1","lt":"1.05 (0.71,1.55)","lp":"0.808","rt":"0.60 (0.26,1.38)","rp":"0.230","n":1.05,"nl":0.71,"nh":1.55,"d":0.6,"dl":0.26,"dh":1.38},
{"p":4,"r":40,"g":"v","s":"Urban, 2","lt":"0.87 (0.58,1.30)","lp":"0.497","rt":"1.29 (0.82,2.02)","rp":"0.270","n":0.87,"nl":0.58,"nh":1.3,"d":1.29,"dl":0.82,"dh":2.02},
{"p":4,"r":41,"g":"v","s":"Urban, 3","lt":"0.69 (0.46,1.04)","lp":"0.075","rt":"1.51 (0.90,2.53)","rp":"0.117","n":0.69,"nl":0.46,"nh":1.04,"d":1.51,"dl":0.9,"dh":2.53},
{"p":4,"r":42,"g":"h","s":"Drinking status","li":"0.313","ri":"0.613"},
{"p":4,"r":43,"g":"f","s":"No, 1 (ref)","lt":"1 (1,1)","lp":"-","rt":"1 (1,1)","rp":"-","n":1,"d":1},
{"p":4,"r":44,"g":"v","s":"No, 2","lt":"0.90 (0.71,1.15)","lp":"0.406","rt":"1.66 (1.22,2.25)","rp":"0.001","n":0.9,"nl":0.71,"nh":1.15,"d":1.66,"dl":1.22,"dh":2.25},
{"p":4,"r":45,"g":"v","s":"No, 3","lt":"0.73 (0.53,1.01)","lp":"0.057","rt":"2.32 (1.64,3.29)","rp":"<0.001","n":0.73,"nl":0.53,"nh":1.01,"d":2.32,"dl":1.64,"dh":3.29},
{"p":4,"r":46,"g":"v","s":"Yes, 1","lt":"0.91 (0.68,1.22)","lp":"0.533","rt":"1.34 (0.89,2.00)","rp":"0.157","n":0.91,"nl":0.68,"nh":1.22,"d":1.34,"dl":0.89,"dh":2.0},
{"p":4,"r":47,"g":"v","s":"Yes, 2","lt":"0.84 (0.61,1.15)","lp":"0.277","rt":"1.06 (0.69,1.63)","rp":"0.786","n":0.84,"nl":0.61,"nh":1.15,"d":1.06,"dl":0.69,"dh":1.63},
{"p":4,"r":48,"g":"v","s":"Yes, 3","lt":"0.76 (0.51,1.13)","lp":"0.175","rt":"1.76 (1.05,2.96)","rp":"0.033","n":0.76,"nl":0.51,"nh":1.13,"d":1.76,"dl":1.05,"dh":2.96},
{"p":4,"r":49,"g":"h","s":"Smoking status","li":"0.554","ri":"0.599"},
{"p":4,"r":50,"g":"f","s":"No, 1 (ref)","lt":"1 (1,1)","lp":"-","rt":"1 (1,1)","rp":"-","n":1,"d":1},
{"p":4,"r":51,"g":"v","s":"No, 2","lt":"0.83 (0.62,1.11)","lp":"0.208","rt":"1.42 (1.05,1.92)","rp":"0.023","n":0.83,"nl":0.62,"nh":1.11,"d":1.42,"dl":1.05,"dh":1.92},
{"p":4,"r":52,"g":"v","s":"No, 3","lt":"0.71 (0.51,0.99)","lp":"0.043","rt":"2.05 (1.42,2.95)","rp":"<0.001","n":0.71,"nl":0.51,"nh":0.99,"d":2.05,"dl":1.42,"dh":2.95},
{"p":4,"r":53,"g":"v","s":"Yes, 1","lt":"0.69 (0.49,0.97)","lp":"0.033","rt":"1.31 (0.85,2.02)","rp":"0.225","n":0.69,"nl":0.49,"nh":0.97,"d":1.31,"dl":0.85,"dh":2.02},
{"p":4,"r":54,"g":"v","s":"Yes, 2","lt":"0.80 (0.57,1.12)","lp":"0.193","rt":"1.40 (0.91,2.16)","rp":"0.129","n":0.8,"nl":0.57,"nh":1.12,"d":1.4,"dl":0.91,"dh":2.16},
{"p":4,"r":55,"g":"v","s":"Yes, 3","lt":"0.70 (0.49,1.00)","lp":"0.050","rt":"2.27 (1.38,3.74)","rp":"0.001","n":0.7,"nl":0.49,"nh":1.0,"d":2.27,"dl":1.38,"dh":3.74}
]},
"vconcat":[
{"concat":[
{"width":357,"height":249,
"title":{"text":"Subgroup Analysis (AIP)","anchor":"start","dx":148,"offset":2,"font":"Liberation Serif","fontSize":7,"fontWeight":"bold","color":"#000"},
"data":{"name":"t"},"transform":[{"filter":"datum.p==1"}],
"encoding":{"y":{"field":"r","type":"quantitative","scale":{"domain":[-1.7,56.1],"nice":false,"zero":false,"reverse":true},"axis":null}},
"layer":[
{"transform":[{"filter":"datum.r<=0"}],"mark":{"type":"rule","yOffset":-2.15,"color":"#555","strokeWidth":0.5},"encoding":{}},
{"transform":[{"filter":"datum.g=='h'&&datum.r>0"}],"mark":{"type":"rule","yOffset":-2.15,"color":"#d0d0d0","strokeWidth":0.5},"encoding":{}},
{"transform":[{"filter":"datum.r==0"}],"mark":{"type":"rule","color":"#bdb2a2","strokeWidth":0.6},"encoding":{"x":{"datum":1,"type":"quantitative","scale":{"type":"log","domain":[0.25,4],"range":[120,264],"nice":false}},"y":{"datum":-0.5},"y2":{"datum":56.1}}},
{"transform":[{"filter":"datum.g=='v'"}],"mark":{"type":"rule","color":"#f0a060","strokeWidth":1.3,"opacity":0.55},"encoding":{"x":{"field":"nl","type":"quantitative","scale":{"type":"log","domain":[0.25,4],"range":[120,264],"nice":false},"axis":{"values":[0.25,0.5,1,2,4],"format":"~g","title":"Hazard Ratio (95% Confidence Interval)","titleFont":"Liberation Serif","titleFontSize":3.8,"titleFontWeight":"bold","titlePadding":1.5,"titleColor":"#111","labelFont":"Liberation Serif","labelFontSize":3.2,"labelColor":"#555","labelPadding":1,"tickSize":1.5,"tickWidth":0.5,"tickColor":"#444","domainWidth":0.5,"domainColor":"#444","grid":false}},"x2":{"field":"nh"}}},
{"transform":[{"filter":"datum.g=='v'"}],"mark":{"type":"rule","color":"#4f9bd0","strokeWidth":1.3,"opacity":0.55},"encoding":{"x":{"field":"dl","type":"quantitative"},"x2":{"field":"dh"}}},
{"transform":[{"filter":"isValid(datum.n)"}],"mark":{"type":"square","size":4,"opacity":1},"encoding":{"x":{"field":"n","type":"quantitative"},"color":{"datum":"Normoglycemia","type":"nominal","scale":{"domain":["Normoglycemia","Diabetes"],"range":["#e07b2a","#2b78b3"]},"legend":{"orient":"none","legendX":255,"legendY":-8.5,"direction":"horizontal","title":null,"symbolType":"square","symbolSize":22,"symbolStrokeWidth":0,"labelFont":"Liberation Serif","labelFontSize":4,"labelOffset":17,"columnPadding":8,"padding":0}}}},
{"transform":[{"filter":"isValid(datum.d)"}],"mark":{"type":"square","size":4,"opacity":1},"encoding":{"x":{"field":"d","type":"quantitative"},"color":{"datum":"Diabetes","type":"nominal"}}},
{"transform":[{"filter":"isValid(datum.s)"}],"mark":{"type":"text","align":"left","dx":-178.5,"font":"Liberation Serif","fontSize":3.6,"baseline":"middle","color":"#111"},"encoding":{"text":{"field":"s"}}},
{"transform":[{"filter":"isValid(datum.lt)"}],"mark":{"type":"text","align":"right","dx":-127.5,"font":"Liberation Serif","fontSize":3.6,"baseline":"middle","color":"#111"},"encoding":{"text":{"field":"lt"}}},
{"transform":[{"filter":"isValid(datum.lp)"}],"mark":{"type":"text","align":"center","dx":-118,"font":"Liberation Serif","fontSize":3.6,"baseline":"middle","color":"#111"},"encoding":{"text":{"field":"lp"}}},
{"transform":[{"filter":"isValid(datum.li)"}],"mark":{"type":"text","align":"center","dx":-94,"font":"Liberation Serif","fontSize":3.6,"baseline":"middle","color":"#111"},"encoding":{"text":{"field":"li"}}},
{"transform":[{"filter":"isValid(datum.rt)"}],"mark":{"type":"text","align":"right","dx":124.5,"font":"Liberation Serif","fontSize":3.6,"baseline":"middle","color":"#111"},"encoding":{"text":{"field":"rt"}}},
{"transform":[{"filter":"isValid(datum.rp)"}],"mark":{"type":"text","align":"center","dx":133.5,"font":"Liberation Serif","fontSize":3.6,"baseline":"middle","color":"#111"},"encoding":{"text":{"field":"rp"}}},
{"transform":[{"filter":"isValid(datum.ri)"}],"mark":{"type":"text","align":"right","dx":174.5,"font":"Liberation Serif","fontSize":3.6,"baseline":"middle","color":"#111"},"encoding":{"text":{"field":"ri"}}},
{"transform":[{"filter":"datum.r==0"}],"mark":{"type":"text","angle":-53,"font":"Liberation Sans","fontSize":54,"fill":"#e6e6e6","stroke":"#a8a8a8","strokeWidth":0.8,"opacity":0.6,"align":"center","baseline":"middle"},"encoding":{"x":{"datum":41.1,"type":"quantitative"},"y":{"datum":56.56},"text":{"value":"ARTICLE IN PRESS"}}}
]},
{"width":357,"height":249,
"title":{"text":"Subgroup Analysis (AIP-BMI)","anchor":"start","dx":148,"offset":2,"font":"Liberation Serif","fontSize":7,"fontWeight":"bold","color":"#000"},
"data":{"name":"t"},"transform":[{"filter":"datum.p==2"}],
"encoding":{"y":{"field":"r","type":"quantitative","scale":{"domain":[-1.7,56.1],"nice":false,"zero":false,"reverse":true},"axis":null}},
"layer":[
{"transform":[{"filter":"datum.r<=0"}],"mark":{"type":"rule","yOffset":-2.15,"color":"#555","strokeWidth":0.5},"encoding":{}},
{"transform":[{"filter":"datum.g=='h'&&datum.r>0"}],"mark":{"type":"rule","yOffset":-2.15,"color":"#d0d0d0","strokeWidth":0.5},"encoding":{}},
{"transform":[{"filter":"datum.r==0"}],"mark":{"type":"rule","color":"#bdb2a2","strokeWidth":0.6},"encoding":{"x":{"datum":1,"type":"quantitative","scale":{"type":"log","domain":[0.25,4],"range":[120,264],"nice":false}},"y":{"datum":-0.5},"y2":{"datum":56.1}}},
{"transform":[{"filter":"datum.g=='v'"}],"mark":{"type":"rule","color":"#f0a060","strokeWidth":1.3,"opacity":0.55},"encoding":{"x":{"field":"nl","type":"quantitative","scale":{"type":"log","domain":[0.25,4],"range":[120,264],"nice":false},"axis":{"values":[0.25,0.5,1,2,4],"format":"~g","title":"Hazard Ratio (95% Confidence Interval)","titleFont":"Liberation Serif","titleFontSize":3.8,"titleFontWeight":"bold","titlePadding":1.5,"titleColor":"#111","labelFont":"Liberation Serif","labelFontSize":3.2,"labelColor":"#555","labelPadding":1,"tickSize":1.5,"tickWidth":0.5,"tickColor":"#444","domainWidth":0.5,"domainColor":"#444","grid":false}},"x2":{"field":"nh"}}},
{"transform":[{"filter":"datum.g=='v'"}],"mark":{"type":"rule","color":"#4f9bd0","strokeWidth":1.3,"opacity":0.55},"encoding":{"x":{"field":"dl","type":"quantitative"},"x2":{"field":"dh"}}},
{"transform":[{"filter":"isValid(datum.n)"}],"mark":{"type":"square","size":4,"opacity":1},"encoding":{"x":{"field":"n","type":"quantitative"},"color":{"datum":"Normoglycemia","type":"nominal","scale":{"domain":["Normoglycemia","Diabetes"],"range":["#e07b2a","#2b78b3"]},"legend":{"orient":"none","legendX":255,"legendY":-8.5,"direction":"horizontal","title":null,"symbolType":"square","symbolSize":22,"symbolStrokeWidth":0,"labelFont":"Liberation Serif","labelFontSize":4,"labelOffset":17,"columnPadding":8,"padding":0}}}},
{"transform":[{"filter":"isValid(datum.d)"}],"mark":{"type":"square","size":4,"opacity":1},"encoding":{"x":{"field":"d","type":"quantitative"},"color":{"datum":"Diabetes","type":"nominal"}}},
{"transform":[{"filter":"isValid(datum.s)"}],"mark":{"type":"text","align":"left","dx":-178.5,"font":"Liberation Serif","fontSize":3.6,"baseline":"middle","color":"#111"},"encoding":{"text":{"field":"s"}}},
{"transform":[{"filter":"isValid(datum.lt)"}],"mark":{"type":"text","align":"right","dx":-127.5,"font":"Liberation Serif","fontSize":3.6,"baseline":"middle","color":"#111"},"encoding":{"text":{"field":"lt"}}},
{"transform":[{"filter":"isValid(datum.lp)"}],"mark":{"type":"text","align":"center","dx":-118,"font":"Liberation Serif","fontSize":3.6,"baseline":"middle","color":"#111"},"encoding":{"text":{"field":"lp"}}},
{"transform":[{"filter":"isValid(datum.li)"}],"mark":{"type":"text","align":"center","dx":-94,"font":"Liberation Serif","fontSize":3.6,"baseline":"middle","color":"#111"},"encoding":{"text":{"field":"li"}}},
{"transform":[{"filter":"isValid(datum.rt)"}],"mark":{"type":"text","align":"right","dx":124.5,"font":"Liberation Serif","fontSize":3.6,"baseline":"middle","color":"#111"},"encoding":{"text":{"field":"rt"}}},
{"transform":[{"filter":"isValid(datum.rp)"}],"mark":{"type":"text","align":"center","dx":133.5,"font":"Liberation Serif","fontSize":3.6,"baseline":"middle","color":"#111"},"encoding":{"text":{"field":"rp"}}},
{"transform":[{"filter":"isValid(datum.ri)"}],"mark":{"type":"text","align":"right","dx":174.5,"font":"Liberation Serif","fontSize":3.6,"baseline":"middle","color":"#111"},"encoding":{"text":{"field":"ri"}}}
]},
{"width":357,"height":249,
"title":{"text":"Subgroup Analysis(AIP-WC)","anchor":"start","dx":148,"offset":2,"font":"Liberation Serif","fontSize":7,"fontWeight":"bold","color":"#000"},
"data":{"name":"t"},"transform":[{"filter":"datum.p==3"}],
"encoding":{"y":{"field":"r","type":"quantitative","scale":{"domain":[-1.7,56.1],"nice":false,"zero":false,"reverse":true},"axis":null}},
"layer":[
{"transform":[{"filter":"datum.r<=0"}],"mark":{"type":"rule","yOffset":-2.15,"color":"#555","strokeWidth":0.5},"encoding":{}},
{"transform":[{"filter":"datum.g=='h'&&datum.r>0"}],"mark":{"type":"rule","yOffset":-2.15,"color":"#d0d0d0","strokeWidth":0.5},"encoding":{}},
{"transform":[{"filter":"datum.r==0"}],"mark":{"type":"rule","color":"#bdb2a2","strokeWidth":0.6},"encoding":{"x":{"datum":1,"type":"quantitative","scale":{"type":"log","domain":[0.25,4],"range":[120,264],"nice":false}},"y":{"datum":-0.5},"y2":{"datum":56.1}}},
{"transform":[{"filter":"datum.g=='v'"}],"mark":{"type":"rule","color":"#f0a060","strokeWidth":1.3,"opacity":0.55},"encoding":{"x":{"field":"nl","type":"quantitative","scale":{"type":"log","domain":[0.25,4],"range":[120,264],"nice":false},"axis":{"values":[0.25,0.5,1,2,4],"format":"~g","title":"Hazard Ratio (95% Confidence Interval)","titleFont":"Liberation Serif","titleFontSize":3.8,"titleFontWeight":"bold","titlePadding":1.5,"titleColor":"#111","labelFont":"Liberation Serif","labelFontSize":3.2,"labelColor":"#555","labelPadding":1,"tickSize":1.5,"tickWidth":0.5,"tickColor":"#444","domainWidth":0.5,"domainColor":"#444","grid":false}},"x2":{"field":"nh"}}},
{"transform":[{"filter":"datum.g=='v'"}],"mark":{"type":"rule","color":"#4f9bd0","strokeWidth":1.3,"opacity":0.55},"encoding":{"x":{"field":"dl","type":"quantitative"},"x2":{"field":"dh"}}},
{"transform":[{"filter":"isValid(datum.n)"}],"mark":{"type":"square","size":4,"opacity":1},"encoding":{"x":{"field":"n","type":"quantitative"},"color":{"datum":"Normoglycemia","type":"nominal","scale":{"domain":["Normoglycemia","Diabetes"],"range":["#e07b2a","#2b78b3"]},"legend":{"orient":"none","legendX":255,"legendY":-8.5,"direction":"horizontal","title":null,"symbolType":"square","symbolSize":22,"symbolStrokeWidth":0,"labelFont":"Liberation Serif","labelFontSize":4,"labelOffset":17,"columnPadding":8,"padding":0}}}},
{"transform":[{"filter":"isValid(datum.d)"}],"mark":{"type":"square","size":4,"opacity":1},"encoding":{"x":{"field":"d","type":"quantitative"},"color":{"datum":"Diabetes","type":"nominal"}}},
{"transform":[{"filter":"isValid(datum.s)"}],"mark":{"type":"text","align":"left","dx":-178.5,"font":"Liberation Serif","fontSize":3.6,"baseline":"middle","color":"#111"},"encoding":{"text":{"field":"s"}}},
{"transform":[{"filter":"isValid(datum.lt)"}],"mark":{"type":"text","align":"right","dx":-127.5,"font":"Liberation Serif","fontSize":3.6,"baseline":"middle","color":"#111"},"encoding":{"text":{"field":"lt"}}},
{"transform":[{"filter":"isValid(datum.lp)"}],"mark":{"type":"text","align":"center","dx":-118,"font":"Liberation Serif","fontSize":3.6,"baseline":"middle","color":"#111"},"encoding":{"text":{"field":"lp"}}},
{"transform":[{"filter":"isValid(datum.li)"}],"mark":{"type":"text","align":"center","dx":-94,"font":"Liberation Serif","fontSize":3.6,"baseline":"middle","color":"#111"},"encoding":{"text":{"field":"li"}}},
{"transform":[{"filter":"isValid(datum.rt)"}],"mark":{"type":"text","align":"right","dx":124.5,"font":"Liberation Serif","fontSize":3.6,"baseline":"middle","color":"#111"},"encoding":{"text":{"field":"rt"}}},
{"transform":[{"filter":"isValid(datum.rp)"}],"mark":{"type":"text","align":"center","dx":133.5,"font":"Liberation Serif","fontSize":3.6,"baseline":"middle","color":"#111"},"encoding":{"text":{"field":"rp"}}},
{"transform":[{"filter":"isValid(datum.ri)"}],"mark":{"type":"text","align":"right","dx":174.5,"font":"Liberation Serif","fontSize":3.6,"baseline":"middle","color":"#111"},"encoding":{"text":{"field":"ri"}}}
]},
{"width":357,"height":249,
"title":{"text":"Subgroup Analysis(AIP-WHtR)","anchor":"start","dx":148,"offset":2,"font":"Liberation Serif","fontSize":7,"fontWeight":"bold","color":"#000"},
"data":{"name":"t"},"transform":[{"filter":"datum.p==4"}],
"encoding":{"y":{"field":"r","type":"quantitative","scale":{"domain":[-1.7,56.1],"nice":false,"zero":false,"reverse":true},"axis":null}},
"layer":[
{"transform":[{"filter":"datum.r<=0"}],"mark":{"type":"rule","yOffset":-2.15,"color":"#555","strokeWidth":0.5},"encoding":{}},
{"transform":[{"filter":"datum.g=='h'&&datum.r>0"}],"mark":{"type":"rule","yOffset":-2.15,"color":"#d0d0d0","strokeWidth":0.5},"encoding":{}},
{"transform":[{"filter":"datum.r==0"}],"mark":{"type":"rule","color":"#bdb2a2","strokeWidth":0.6},"encoding":{"x":{"datum":1,"type":"quantitative","scale":{"type":"log","domain":[0.25,4],"range":[120,264],"nice":false}},"y":{"datum":-0.5},"y2":{"datum":56.1}}},
{"transform":[{"filter":"datum.g=='v'"}],"mark":{"type":"rule","color":"#f0a060","strokeWidth":1.3,"opacity":0.55},"encoding":{"x":{"field":"nl","type":"quantitative","scale":{"type":"log","domain":[0.25,4],"range":[120,264],"nice":false},"axis":{"values":[0.25,0.5,1,2,4],"format":"~g","title":"Hazard Ratio (95% Confidence Interval)","titleFont":"Liberation Serif","titleFontSize":3.8,"titleFontWeight":"bold","titlePadding":1.5,"titleColor":"#111","labelFont":"Liberation Serif","labelFontSize":3.2,"labelColor":"#555","labelPadding":1,"tickSize":1.5,"tickWidth":0.5,"tickColor":"#444","domainWidth":0.5,"domainColor":"#444","grid":false}},"x2":{"field":"nh"}}},
{"transform":[{"filter":"datum.g=='v'"}],"mark":{"type":"rule","color":"#4f9bd0","strokeWidth":1.3,"opacity":0.55},"encoding":{"x":{"field":"dl","type":"quantitative"},"x2":{"field":"dh"}}},
{"transform":[{"filter":"isValid(datum.n)"}],"mark":{"type":"square","size":4,"opacity":1},"encoding":{"x":{"field":"n","type":"quantitative"},"color":{"datum":"Normoglycemia","type":"nominal","scale":{"domain":["Normoglycemia","Diabetes"],"range":["#e07b2a","#2b78b3"]},"legend":{"orient":"none","legendX":255,"legendY":-8.5,"direction":"horizontal","title":null,"symbolType":"square","symbolSize":22,"symbolStrokeWidth":0,"labelFont":"Liberation Serif","labelFontSize":4,"labelOffset":17,"columnPadding":8,"padding":0}}}},
{"transform":[{"filter":"isValid(datum.d)"}],"mark":{"type":"square","size":4,"opacity":1},"encoding":{"x":{"field":"d","type":"quantitative"},"color":{"datum":"Diabetes","type":"nominal"}}},
{"transform":[{"filter":"isValid(datum.s)"}],"mark":{"type":"text","align":"left","dx":-178.5,"font":"Liberation Serif","fontSize":3.6,"baseline":"middle","color":"#111"},"encoding":{"text":{"field":"s"}}},
{"transform":[{"filter":"isValid(datum.lt)"}],"mark":{"type":"text","align":"right","dx":-127.5,"font":"Liberation Serif","fontSize":3.6,"baseline":"middle","color":"#111"},"encoding":{"text":{"field":"lt"}}},
{"transform":[{"filter":"isValid(datum.lp)"}],"mark":{"type":"text","align":"center","dx":-118,"font":"Liberation Serif","fontSize":3.6,"baseline":"middle","color":"#111"},"encoding":{"text":{"field":"lp"}}},
{"transform":[{"filter":"isValid(datum.li)"}],"mark":{"type":"text","align":"center","dx":-94,"font":"Liberation Serif","fontSize":3.6,"baseline":"middle","color":"#111"},"encoding":{"text":{"field":"li"}}},
{"transform":[{"filter":"isValid(datum.rt)"}],"mark":{"type":"text","align":"right","dx":124.5,"font":"Liberation Serif","fontSize":3.6,"baseline":"middle","color":"#111"},"encoding":{"text":{"field":"rt"}}},
{"transform":[{"filter":"isValid(datum.rp)"}],"mark":{"type":"text","align":"center","dx":133.5,"font":"Liberation Serif","fontSize":3.6,"baseline":"middle","color":"#111"},"encoding":{"text":{"field":"rp"}}},
{"transform":[{"filter":"isValid(datum.ri)"}],"mark":{"type":"text","align":"right","dx":174.5,"font":"Liberation Serif","fontSize":3.6,"baseline":"middle","color":"#111"},"encoding":{"text":{"field":"ri"}}}
]}
],"columns":2,"spacing":{"row":48,"column":31},"bounds":"flush"},
{"width":520,"height":16,"view":{"fill":"#cde2f1","stroke":null},
"data":{"values":[{"t":"图5.森林图显示AIP控制模式及其肥胖相关指标与糖尿病前期血糖转归的关联"}]},
"mark":{"type":"text","font":"Noto Sans CJK SC","fontSize":15,"fontWeight":"bold","color":"#3a4656","baseline":"middle"},
"encoding":{"text":{"field":"t"}}}
],
"spacing":17,"center":true
}
